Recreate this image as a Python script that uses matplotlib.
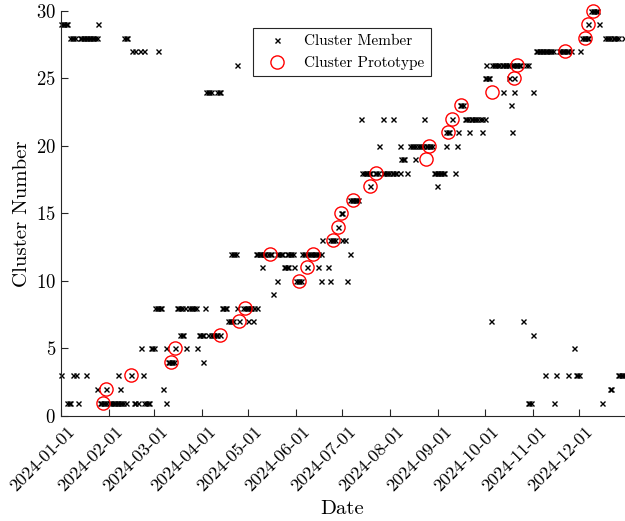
# %%
from matplotlib import pyplot as plt
import matplotlib.dates as mdates
import matplotlib.transforms as mtransforms
import numpy as np
import pandas as pd

# %%
# Data: days since 2024-01-01 assigned to each cluster (cluster 1 first)

cluster_days = [
    [4, 5, 6, 11, 25, 26, 27, 28, 29, 31, 32, 33, 34, 35, 36, 37, 38, 39, 40,
     42, 47, 48, 50, 54, 55, 56, 57, 68, 302, 303, 304, 319, 350],
    [23, 29, 38, 66, 355, 356],
    [0, 8, 10, 16, 37, 45, 53, 313, 320, 328, 333, 334, 335,
     360, 361, 362, 363, 364],
    [69, 70, 71, 72, 73, 92],
    [52, 58, 59, 60, 68, 74, 81, 88, 332],
    [77, 78, 79, 89, 90, 91, 92, 95, 97, 98, 99, 100, 101, 103, 305],
    [108, 109, 110, 111, 115, 121, 124, 278, 299],
    [61, 62, 63, 64, 65, 75, 76, 77, 78, 80, 83, 84, 85, 86, 87, 93,
     104, 105, 106, 107, 114, 118, 119, 120, 121, 122, 123, 125, 127],
    [137],
    [140, 152, 153, 154, 155, 168, 174, 185],
    [130, 144, 145, 146, 147, 151, 159, 166, 173],
    [110, 111, 112, 113, 126, 127, 128, 129, 130, 131, 132, 134, 135, 136,
     140, 141, 142, 143, 146, 147, 148, 149, 150, 156, 157, 158, 160, 161,
     162, 163, 164, 165, 166, 168, 187],
    [169, 174, 175, 176, 177, 182, 184],
    [179],
    [181, 182],
    [187, 188, 189, 190, 191, 192],
    [200, 243],
    [195, 196, 197, 198, 199, 200, 203, 204, 205, 208, 209, 210, 211, 212,
     214, 215, 216, 217, 219, 224, 241, 242, 243, 244, 245, 246, 247, 248, 255],
    [220, 221, 222, 229],
    [206, 219, 226, 227, 228, 229, 231, 232, 233, 234, 236, 237, 238, 239,
     240, 249, 256],
    [249, 250, 251, 257, 264, 272, 292],
    [194, 208, 215, 235, 253, 261, 262, 263, 265, 266, 267, 268, 269, 271,
     272, 274],
    [258, 259, 260, 291],
    [94, 95, 96, 97, 101, 102, 103, 286, 293, 305],
    [274, 275, 276, 277, 290, 293],
    [114, 275, 279, 280, 281, 282, 283, 285, 286, 287, 288, 289, 290, 292,
     293, 294, 295, 296, 297, 301, 302],
    [46, 48, 51, 54, 63, 307, 308, 309, 310, 311, 312, 313, 314, 315, 316,
     317, 318, 322, 323, 324, 325, 326, 327, 328, 330, 336],
    [6, 7, 8, 9, 12, 13, 14, 15, 16, 17, 18, 19, 20, 21, 22, 23, 41, 42, 43,
     337, 338, 339, 340, 341, 352, 353, 354, 355, 357, 358, 359, 360, 364],
    [0, 1, 2, 3, 4, 24, 341, 348],
    [343, 344, 345, 346, 347],
]

proto_day = [27, 29, 45, 71, 74, 103, 115, 119, 154, 159, 135, 163, 176, 179,
             181, 189, 200, 204, 236, 238, 250, 253, 259, 279, 293, 295, 326,
             339, 341, 344]
proto_cluster = [1, 2, 3, 4, 5, 6, 7, 8, 10, 11, 12, 12, 13, 14,
                 15, 16, 17, 18, 19, 20, 21, 22, 23, 24, 25, 26, 27,
                 28, 29, 30]

member_day = []
member_cluster = []
for k, days in enumerate(cluster_days, start=1):
    member_day += days
    member_cluster += [k] * len(days)

start = pd.Timestamp("2024-01-01")
member_dates = start + pd.to_timedelta(member_day, unit="D")
proto_dates = start + pd.to_timedelta(proto_day, unit="D")

# %%
# Style: Computer Modern, MATLAB-like axes
plt.rcParams["font.family"] = "cmr10"
plt.rcParams["mathtext.fontset"] = "cm"
plt.rcParams["axes.formatter.use_mathtext"] = True

fig = plt.figure(figsize=(6.25, 5.21), dpi=100)
ax = fig.add_axes([0.0976, 0.2015, 0.9004, 0.778])

ax.plot(member_dates, member_cluster, "x", color="black", markersize=3.6,
        markeredgewidth=1.0, label="Cluster Member", clip_on=False)
ax.plot(proto_dates, proto_cluster, "o", markerfacecolor="none",
        markeredgecolor="red", markersize=9.5, markeredgewidth=1.0,
        label="Cluster Prototype", clip_on=False)

ax.set_xlim(pd.Timestamp("2024-01-01"), pd.Timestamp("2024-12-30"))
ax.set_ylim(0, 30)
ax.set_yticks(np.arange(0, 31, 5))

ax.xaxis.set_major_locator(mdates.MonthLocator())
ax.xaxis.set_major_formatter(mdates.DateFormatter("%Y-%m-%d"))

ax.spines["top"].set_visible(False)
ax.spines["right"].set_visible(False)
for side in ["left", "bottom"]:
    ax.spines[side].set_color("#262626")
ax.tick_params(direction="in", length=5, width=0.8, colors="#262626",
               labelcolor="black", labelsize=13.5)
ax.tick_params(axis="x", labelsize=13, pad=2)

# rotated date labels, shifted so their ends sit just right of the ticks
shift = mtransforms.ScaledTranslation(6 / 100, -5 / 100, fig.dpi_scale_trans)
for lbl in ax.get_xticklabels():
    lbl.set_rotation(45)
    lbl.set_ha("right")
    lbl.set_va("top")
    lbl.set_rotation_mode("anchor")
    lbl.set_transform(lbl.get_transform() + shift)

ax.set_xlabel("Date", fontsize=15)
ax.xaxis.set_label_coords(0.5, -0.207)
ax.set_ylabel("Cluster Number", fontsize=15)

leg = ax.legend(loc="upper center", bbox_to_anchor=(0.499, 0.975),
                fontsize=11, fancybox=False, framealpha=1,
                edgecolor="#262626", handlelength=2.3, handletextpad=0.65,
                borderpad=0.4)
leg.get_frame().set_linewidth(0.8)

plt.savefig("out.png", dpi=100)
